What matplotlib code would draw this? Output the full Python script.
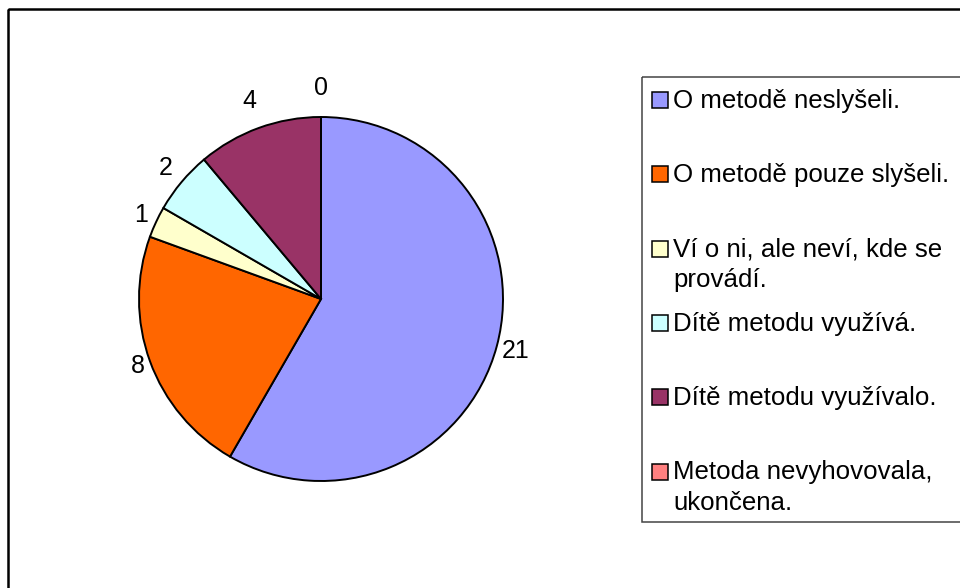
import numpy as np
import matplotlib
matplotlib.use("Agg")
import matplotlib.pyplot as plt
from matplotlib.patches import Rectangle

plt.rcParams['font.family'] = ['Liberation Sans', 'DejaVu Sans']

# answers to the questionnaire
labels = ["O metodě neslyšeli.",
          "O metodě pouze slyšeli.",
          "Ví o ni, ale neví, kde se\nprovádí.",
          "Dítě metodu využívá.",
          "Dítě metodu využívalo.",
          "Metoda nevyhovovala,\nukončena."]
counts = [21, 8, 1, 2, 4, 0]
colors = ["#9999FF", "#FF6600", "#FFFFCC", "#CCFFFF", "#993366", "#FF8080"]

W, H = 960, 588
fig = plt.figure(figsize=(W / 100, H / 100), dpi=100)

# background layer in pixel units: outer frame + legend
bg = fig.add_axes([0, 0, 1, 1])
bg.set_xlim(0, W)
bg.set_ylim(H, 0)
bg.axis("off")
bg.add_patch(Rectangle((7.5, 8.5), W + 20, H + 20, fill=False,
                       edgecolor="black", linewidth=1.8))
bg.add_patch(Rectangle((642, 77), W, 445, fill=False,
                       edgecolor="#444444", linewidth=1.1))

# legend entries
y0, step, line_h = 100, 74.3, 30
for i, (lab, col) in enumerate(zip(labels, colors)):
    yc = y0 + i * step
    bg.add_patch(Rectangle((651.5, yc - 8), 16, 16, facecolor=col,
                           edgecolor="black", linewidth=1.1))
    for j, line in enumerate(lab.split("\n")):
        bg.text(673, yc + 8 + j * line_h, line, fontsize=18.6,
                ha="left", va="baseline")

# pie: centre (321, 299) px, radius 182 px
cx, cy, r = 321, 299, 182
ax = fig.add_axes([(cx - r) / W, (H - cy - r) / H, 2 * r / W, 2 * r / H])
wedges, _ = ax.pie(counts, colors=colors, startangle=90, counterclock=False,
                   wedgeprops=dict(edgecolor="black", linewidth=1.4))
ax.set_xlim(-1, 1)
ax.set_ylim(-1, 1)
ax.set_aspect("equal", adjustable="box")
ax.axis("off")

# value labels just outside the pie
for w, n in zip(wedges, counts):
    mid = np.deg2rad((w.theta1 + w.theta2) / 2)
    s, c = np.sin(mid), np.cos(mid)
    txt = str(n)
    d = 1.04 + 0.12 * max(s, 0) ** 2 + 0.035 * abs(c) * len(txt)
    ax.text(d * c, d * s, txt, fontsize=18, ha="center", va="center")

fig.savefig("out.png", dpi=100)
